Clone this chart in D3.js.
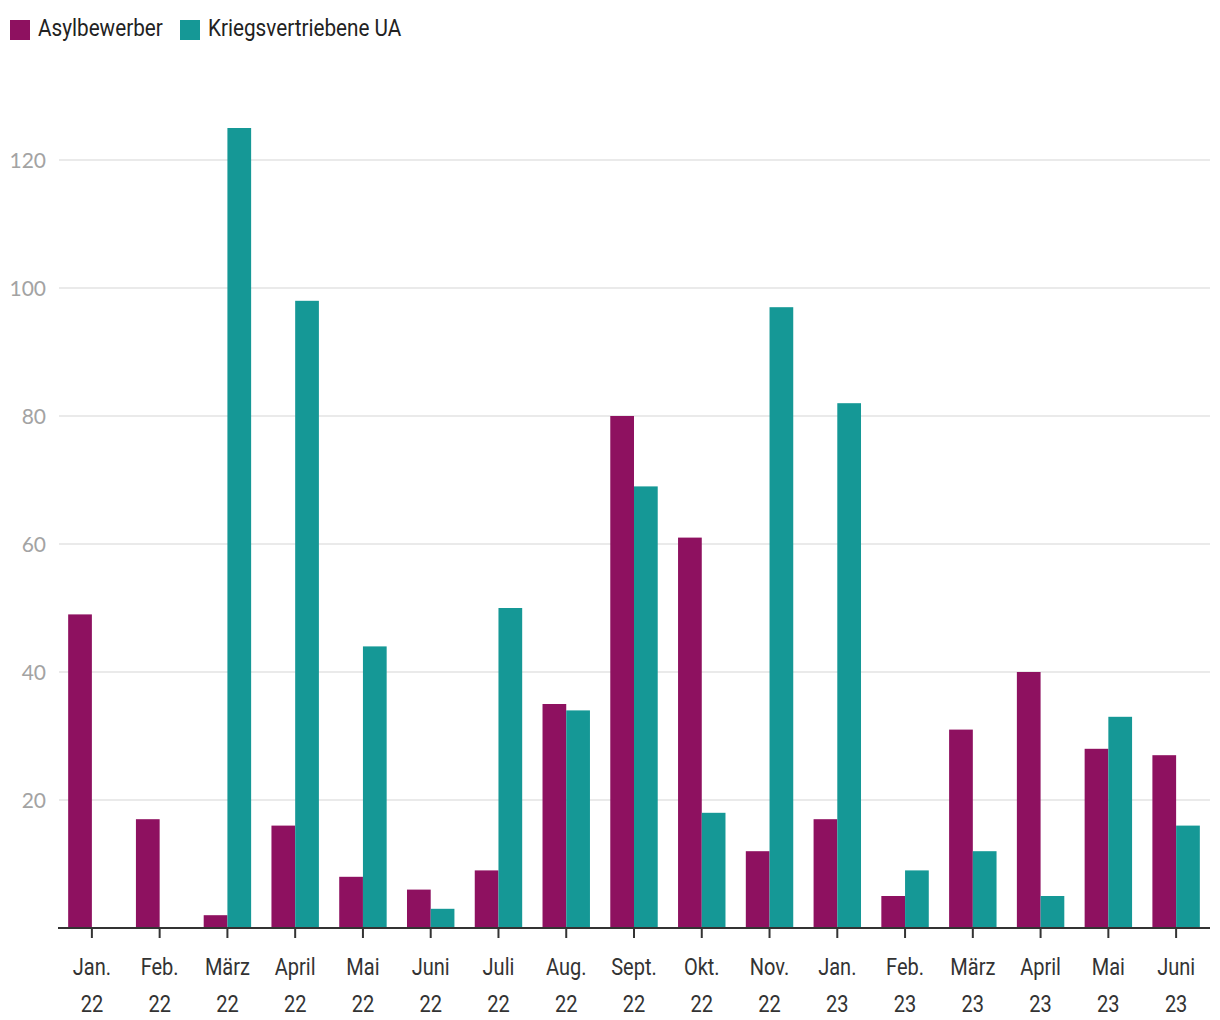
<!DOCTYPE html>
<html><head><meta charset="utf-8">
<script src="https://cdn.jsdelivr.net/npm/d3@7"></script>
<style>
html,body{margin:0;padding:0;background:#fff;}
svg{display:block;}
</style></head>
<body>
<svg id="chart" width="1220" height="1020"></svg>
<script>
const months = ["Jan.","Feb.","März","April","Mai","Juni","Juli","Aug.","Sept.","Okt.","Nov.","Jan.","Feb.","März","April","Mai","Juni"];
const years = ["22","22","22","22","22","22","22","22","22","22","22","23","23","23","23","23","23"];
const asylbewerber = [49,17,2,16,8,6,9,35,80,61,12,17,5,31,40,28,27];
const kriegsvertriebene = [0,0,125,98,44,3,50,34,69,18,97,82,9,12,5,33,16];
const seriesNames = ["Asylbewerber","Kriegsvertriebene UA"];
const seriesColors = ["#8E1160","#159896"];
const yTicks = [20,40,60,80,100,120];

const font = "Roboto,'DejaVu Sans Condensed',sans-serif";
const svg = d3.select("#chart");
const x0 = d3.scaleBand().domain(d3.range(months.length)).range([58,1210]).paddingInner(0.3).paddingOuter(0.15);
const x1 = d3.scaleBand().domain([0,1]).range([0,x0.bandwidth()]);
const y = d3.scaleLinear().domain([0,125]).range([928,128]);

// gridlines
svg.append("g").selectAll("line").data(yTicks).join("line")
  .attr("x1",59).attr("x2",1210)
  .attr("y1",d=>y(d)).attr("y2",d=>y(d))
  .attr("stroke","#e3e3e3").attr("stroke-width",1.5);
svg.append("g").selectAll("text").data(yTicks).join("text")
  .attr("x",46).attr("y",d=>y(d)).attr("dy","0.36em")
  .attr("text-anchor","end").attr("fill","#a3a3a3")
  .style("font-family","Lato,'Open Sans',sans-serif").style("font-size","21px")
  .text(d=>d);

const data = months.map((m,i)=>({i, vals:[asylbewerber[i], kriegsvertriebene[i]]}));
const groups = svg.append("g").selectAll("g").data(data).join("g")
  .attr("transform",d=>`translate(${x0(d.i)},0)`);
groups.selectAll("rect").data(d=>d.vals.map((v,k)=>({v,k}))).join("rect")
  .attr("x",d=>x1(d.k)).attr("width",x1.bandwidth())
  .attr("y",d=>y(d.v)).attr("height",d=>y(0)-y(d.v))
  .attr("fill",d=>seriesColors[d.k]);

// x axis
const xAxis = svg.append("g");
xAxis.append("line").attr("x1",58).attr("x2",1210).attr("y1",928).attr("y2",928)
  .attr("stroke","#333").attr("stroke-width",2);
const ticks = xAxis.selectAll("g").data(data).join("g")
  .attr("transform",d=>`translate(${x0(d.i)+x0.bandwidth()/2},0)`);
ticks.append("line").attr("y1",928).attr("y2",938).attr("stroke","#333").attr("stroke-width",2);
const lab = ticks.append("g").attr("transform","scale(0.87,1)");
lab.append("text").attr("y",975).attr("text-anchor","middle").attr("fill","#333")
  .style("font-family",font).style("font-size","23px").text(d=>months[d.i]);
lab.append("text").attr("y",1012).attr("text-anchor","middle").attr("fill","#333")
  .style("font-family",font).style("font-size","23px").text(d=>years[d.i]);

// legend
const legX = [10,180];
const leg = svg.append("g").selectAll("g").data(seriesNames).join("g")
  .attr("transform",(d,i)=>`translate(${legX[i]},0)`);
leg.append("rect").attr("x",0).attr("y",20).attr("width",20).attr("height",20).attr("fill",(d,i)=>seriesColors[i]);
leg.append("text").attr("transform","translate(28,36) scale(0.9,1)").attr("fill","#222")
  .style("font-family",font).style("font-size","23px").text(d=>d);
</script>
</body></html>
